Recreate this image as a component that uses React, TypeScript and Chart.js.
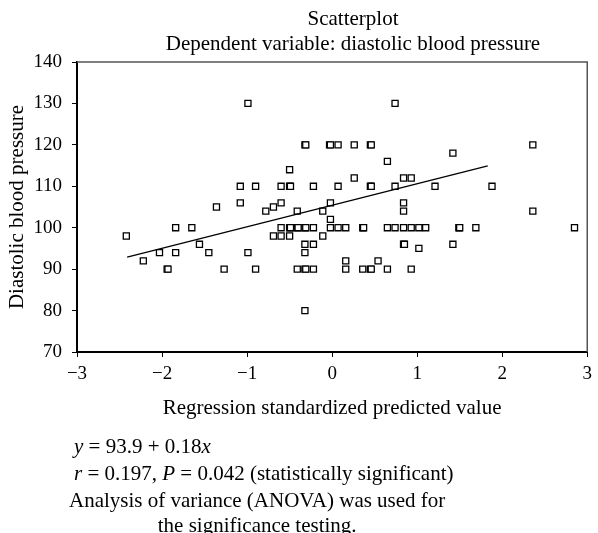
import React, { useEffect, useRef } from "react";
import { Chart, registerables } from "chart.js";

Chart.register(...registerables);

// ---- Data ----
const xValues = [
  -2.42, -2.22, -2.03, -1.94, -1.93, -1.84, -1.84, -1.65, -1.56, -1.45, -1.36, -1.27,
  -1.08, -1.08, -0.99, -0.99, -0.9, -0.9, -0.78, -0.69, -0.69, -0.6, -0.6, -0.6, -0.6,
  -0.5, -0.5, -0.49, -0.5, -0.49, -0.5, -0.41, -0.41, -0.4, -0.41, -0.32, -0.31, -0.32,
  -0.31, -0.32, -0.32, -0.32, -0.31, -0.32, -0.22, -0.22, -0.22, -0.22, -0.11, -0.11,
  -0.03, -0.02, -0.02, -0.02, -0.02, 0.07, 0.07, 0.07, 0.16, 0.16, 0.16, 0.26, 0.26,
  0.36, 0.37, 0.36, 0.45, 0.46, 0.45, 0.46, 0.45, 0.46, 0.54, 0.65, 0.65, 0.65, 0.74,
  0.74, 0.74, 0.84, 0.84, 0.84, 0.84, 0.84, 0.85, 0.93, 0.93, 0.93, 1.02, 1.02, 1.1,
  1.21, 1.42, 1.42, 1.49, 1.5, 1.69, 1.88, 2.36, 2.36, 2.85,
];
const yValues = [
  98, 92, 94, 90, 90, 100, 94, 100, 96, 94, 105, 90,
  110, 106, 130, 94, 110, 90, 104, 105, 98, 110, 106, 100, 98,
  114, 110, 110, 100, 100, 98, 104, 100, 100, 90, 120, 120, 100,
  100, 96, 94, 90, 90, 80, 110, 100, 96, 90, 104, 98,
  120, 120, 106, 102, 100, 120, 110, 100, 100, 92, 90, 120, 112,
  100, 100, 90, 120, 120, 110, 110, 90, 90, 92, 116, 100, 90, 130,
  110, 100, 112, 106, 104, 100, 96, 96, 112, 100, 90, 100, 95, 100,
  110, 118, 96, 100, 100, 100, 110, 120, 104, 100,
];
const fitX = [-2.41, 1.83];
const fitY = [92.9, 114.9];

const xMin = -3;
const xMax = 3;
const yMin = 70;
const yMax = 140;
const yStep = 10;
const xStep = 1;

const titleLines = ["Scatterplot", "Dependent variable: diastolic blood pressure"];
const yAxisTitle = "Diastolic blood pressure";
const xAxisTitle = "Regression standardized predicted value";
// segments: [text, italic]
const noteLines: [string, boolean][][] = [
  [["y", true], [" = 93.9 + 0.18", false], ["x", true]],
  [["r", true], [" = 0.197, ", false], ["P", true], [" = 0.042 (statistically significant)", false]],
  [["Analysis of variance (ANOVA) was used for", false]],
  [["the significance testing.", false]],
];

const FONT = '"Liberation Serif", "Times New Roman", serif';
const TEXT_SIZE = 21;
const TICK_SIZE = 19;

export default function App() {
  const ref = useRef<HTMLCanvasElement | null>(null);

  useEffect(() => {
    if (!ref.current) return;
    const points = xValues.map((x, i) => ({ x, y: yValues[i] }));
    const fit = fitX.map((x, i) => ({ x, y: fitY[i] }));

    const textPlugin = {
      id: "texts",
      afterDraw(chart: any) {
        const { ctx, chartArea } = chart;
        ctx.save();
        // frame top & right
        ctx.strokeStyle = "#555";
        ctx.lineWidth = 1.5;
        ctx.beginPath();
        ctx.moveTo(chartArea.left, chartArea.top);
        ctx.lineTo(chartArea.right, chartArea.top);
        ctx.lineTo(chartArea.right, chartArea.bottom);
        ctx.stroke();

        // title
        ctx.fillStyle = "#000";
        ctx.font = `${TEXT_SIZE}px ${FONT}`;
        ctx.textAlign = "center";
        ctx.textBaseline = "middle";
        const cx = 353;
        ctx.fillText(titleLines[0], cx, 19);
        ctx.fillText(titleLines[1], cx, 44);

        // notes
        ctx.textAlign = "left";
        const lineY = [447, 474, 501, 526];
        const drawSegs = (segs: [string, boolean][], x0: number, y: number) => {
          let x = x0;
          segs.forEach(([t, it]) => {
            ctx.font = `${it ? "italic " : ""}${TEXT_SIZE}px ${FONT}`;
            ctx.fillText(t, x, y);
            x += ctx.measureText(t).width;
          });
        };
        drawSegs(noteLines[0], 74, lineY[0]);
        drawSegs(noteLines[1], 74, lineY[1]);
        ctx.font = `${TEXT_SIZE}px ${FONT}`;
        const w3 = ctx.measureText(noteLines[2][0][0]).width;
        drawSegs(noteLines[2], 69, lineY[2]);
        ctx.textAlign = "center";
        ctx.fillText(noteLines[3][0][0], 69 + w3 / 2, lineY[3]);
        ctx.restore();
      },
    };

    const chart = new Chart(ref.current, {
      type: "scatter",
      data: {
        datasets: [
          {
            type: "scatter",
            data: points,
            pointStyle: "rect",
            pointRadius: 4.3,
            pointBorderWidth: 1.3,
            pointBorderColor: "#000",
            pointBackgroundColor: "#fff",
            order: 2,
          } as any,
          {
            type: "line",
            data: fit,
            borderColor: "#000",
            borderWidth: 1.3,
            pointRadius: 0,
            fill: false,
            order: 1,
          } as any,
        ],
      },
      options: {
        animation: false,
        responsive: false,
        layout: { padding: { left: 0, right: 4, top: 62, bottom: 111 } },
        plugins: { legend: { display: false }, tooltip: { enabled: false }, title: { display: false } },
        scales: {
          x: {
            type: "linear",
            min: xMin,
            max: xMax,
            afterFit: (s: any) => {
              s.height = 70;
            },
            ticks: {
              stepSize: xStep,
              color: "#000",
              font: { family: FONT, size: TICK_SIZE },
              padding: 6,
              callback: (v: any) => String(v).replace("-", "\u2212"),
            },
            grid: { drawOnChartArea: false, drawTicks: true, tickLength: 5, color: "#000", tickColor: "#000" },
            border: { color: "#000", width: 2 },
            title: {
              display: true,
              text: xAxisTitle,
              color: "#000",
              font: { family: FONT, size: TEXT_SIZE },
              padding: { top: 0, bottom: 1 },
            },
          },
          y: {
            type: "linear",
            min: yMin,
            max: yMax,
            afterFit: (s: any) => {
              s.width = 77;
            },
            ticks: {
              stepSize: yStep,
              color: "#000",
              font: { family: FONT, size: TICK_SIZE },
              padding: 10,
            },
            grid: { drawOnChartArea: false, drawTicks: true, tickLength: 5, color: "#000", tickColor: "#000" },
            border: { color: "#000", width: 2 },
            title: {
              display: true,
              text: yAxisTitle,
              color: "#000",
              font: { family: FONT, size: TEXT_SIZE },
              padding: { top: 5, bottom: 0 },
            },
          },
        },
      },
      plugins: [textPlugin],
    });
    return () => chart.destroy();
  }, []);

  return (
    <div style={{ position: "fixed", left: 0, top: 0, width: 598, height: 533, background: "#fff" }}>
      <canvas ref={ref} width={598} height={533} />
    </div>
  );
}
